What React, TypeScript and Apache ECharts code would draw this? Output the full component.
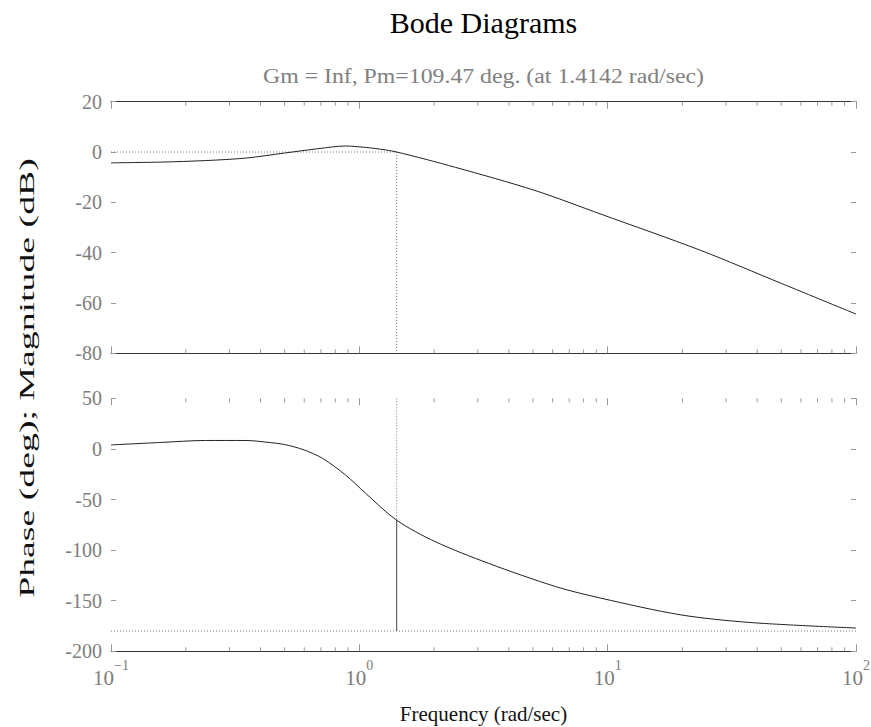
import React, { useEffect, useRef } from "react";
import * as echarts from "echarts";

// ---- data ----
const magFreq = [0.1, 0.16, 0.24, 0.35, 0.5, 0.68, 0.88, 0.96, 1.16, 1.4142, 2.44, 5.1, 9.4, 23.7, 50, 100];
const magDb = [-4.3, -4.0, -3.4, -2.4, -0.4, 1.3, 2.4, 2.2, 1.4, 0, -6.1, -15.3, -24.7, -39.1, -52.2, -64.4];

const phaseFreq = [0.1, 0.16, 0.24, 0.35, 0.42, 0.5, 0.6, 0.71, 0.88, 1.06, 1.4142, 2.02, 3.31, 6.17, 9.4, 19.7, 37.8, 100];
const phaseDeg = [4, 6.5, 8.4, 8.4, 6.8, 4.4, -1, -9.2, -25.7, -43.8, -70.5, -91.6, -113, -136, -147.5, -164, -171.6, -177];

const crossFreq = 1.4142;
const phaseAtCross = -70.53;
const phaseRef = -180;

const magTicks = { min: -80, max: 20, interval: 20 };
const phaseTicks = { min: -200, max: 50, interval: 50 };
const freqRange = { min: 0.1, max: 100 };
const minorFreqs = [
  0.2, 0.3, 0.4, 0.5, 0.6, 0.7, 0.8, 0.9,
  2, 3, 4, 5, 6, 7, 8, 9,
  20, 30, 40, 50, 60, 70, 80, 90,
];

const titleText = "Bode Diagrams";
const subtitleText = "Gm = Inf, Pm=109.47 deg. (at 1.4142 rad/sec)";
const xName = "Frequency (rad/sec)";
const yName = "Phase (deg); Magnitude (dB)";

const SERIF = "'Liberation Serif', 'Times New Roman', serif";
const TICK_COLOR = "#7d7d7d";
const AXIS_COLOR = "#333";
const CURVE_COLOR = "#222";

function minorTickSeries(xi: number, yi: number, ymin: number, ymax: number) {
  return {
    type: "custom",
    xAxisIndex: xi,
    yAxisIndex: yi,
    silent: true,
    clip: false,
    data: minorFreqs.map((f) => [f, ymin]),
    renderItem: (params: any, api: any) => {
      const f = api.value(0);
      const pb = api.coord([f, ymin]);
      const pt = api.coord([f, ymax]);
      const st = { stroke: "#999", lineWidth: 1 };
      return {
        type: "group",
        children: [
          { type: "line", shape: { x1: pb[0], y1: pb[1], x2: pb[0], y2: pb[1] - 4 }, style: st },
          { type: "line", shape: { x1: pt[0], y1: pt[1], x2: pt[0], y2: pt[1] + 4 }, style: st },
        ],
      };
    },
  };
}

function xAxisDef(gridIndex: number, position: string, showLine: boolean, showLabel: boolean) {
  return {
    type: "log",
    logBase: 10,
    gridIndex,
    position,
    min: freqRange.min,
    max: freqRange.max,
    axisLine: { show: showLine, onZero: false, lineStyle: { color: AXIS_COLOR, width: 1 } },
    axisTick: { show: true, inside: true, length: 7, lineStyle: { color: "#999" } },
    splitLine: { show: false },
    minorTick: { show: false },
    axisLabel: showLabel
      ? {
          show: true,
          margin: 7,
          formatter: (v: number) => {
            const e = Math.round(Math.log10(v));
            const s = e < 0 ? "\u2212" + -e : String(e);
            return "{b|10}{s|" + s + "}";
          },
          rich: {
            b: { fontFamily: SERIF, fontSize: 21, color: TICK_COLOR, lineHeight: 30, verticalAlign: "bottom" },
            s: { fontFamily: SERIF, fontSize: 14, color: TICK_COLOR, lineHeight: 14, verticalAlign: "top" },
          },
        }
      : { show: false },
  };
}

function yAxisDef(gridIndex: number, position: string, t: any, showLabel: boolean) {
  return {
    type: "value",
    gridIndex,
    position,
    min: t.min,
    max: t.max,
    interval: t.interval,
    axisLine: { show: false },
    axisTick: { show: true, inside: true, length: 5, lineStyle: { color: "#999" } },
    splitLine: { show: false },
    axisLabel: showLabel
      ? { show: true, margin: 9, fontFamily: SERIF, fontSize: 20, color: TICK_COLOR }
      : { show: false },
  };
}

export default function App() {
  const ref = useRef<HTMLDivElement>(null);
  useEffect(() => {
    if (!ref.current) return;
    const chart = echarts.init(ref.current, undefined, { renderer: "svg" });
    const dotted = { color: "#777", width: 1, type: [1, 2] as any };
    const option: any = {
      animation: false,
      backgroundColor: "#fff",
      grid: [
        { left: 111, top: 101.7, width: 745, height: 251.6, outerBoundsMode: "none" },
        { left: 111, top: 398.4, width: 745, height: 252.9, outerBoundsMode: "none" },
      ],
      xAxis: [
        xAxisDef(0, "bottom", true, false),
        xAxisDef(0, "top", true, false),
        xAxisDef(1, "bottom", true, true),
        xAxisDef(1, "top", false, false),
      ],
      yAxis: [
        yAxisDef(0, "left", magTicks, true),
        yAxisDef(0, "right", magTicks, false),
        yAxisDef(1, "left", phaseTicks, true),
        yAxisDef(1, "right", phaseTicks, false),
      ],
      series: [
        minorTickSeries(0, 0, magTicks.min, magTicks.max),
        minorTickSeries(2, 2, phaseTicks.min, phaseTicks.max),
        {
          type: "line", xAxisIndex: 0, yAxisIndex: 0, symbol: "none", silent: true,
          lineStyle: dotted,
          data: [[freqRange.min, 0], [crossFreq, 0]],
        },
        {
          type: "line", xAxisIndex: 0, yAxisIndex: 0, symbol: "none", silent: true,
          lineStyle: dotted,
          data: [[crossFreq, 0], [crossFreq, magTicks.min]],
        },
        {
          type: "line", xAxisIndex: 2, yAxisIndex: 2, symbol: "none", silent: true,
          lineStyle: dotted,
          data: [[freqRange.min, phaseRef], [freqRange.max, phaseRef]],
        },
        {
          type: "line", xAxisIndex: 2, yAxisIndex: 2, symbol: "none", silent: true,
          lineStyle: dotted,
          data: [[crossFreq, phaseTicks.max], [crossFreq, phaseAtCross]],
        },
        {
          type: "line", xAxisIndex: 2, yAxisIndex: 2, symbol: "none", silent: true,
          lineStyle: { color: "#444", width: 1 },
          data: [[crossFreq, phaseAtCross], [crossFreq, phaseRef]],
        },
        {
          name: "Magnitude", type: "line", xAxisIndex: 0, yAxisIndex: 0, symbol: "none",
          smooth: 0.3, lineStyle: { color: CURVE_COLOR, width: 1 },
          data: magFreq.map((f, i) => [f, magDb[i]]),
        },
        {
          name: "Phase", type: "line", xAxisIndex: 2, yAxisIndex: 2, symbol: "none",
          smooth: 0.3, lineStyle: { color: CURVE_COLOR, width: 1 },
          data: phaseFreq.map((f, i) => [f, phaseDeg[i]]),
        },
      ],
      graphic: [
        {
          type: "text", x: 483.5, y: 22,
          style: { text: titleText, font: "30px " + SERIF, fill: "#000", align: "center", verticalAlign: "middle", textAlign: "center", textVerticalAlign: "middle" },
        },
        {
          type: "text", x: 483.5, y: 76, scaleX: 1.19,
          style: { text: subtitleText, font: "20px " + SERIF, fill: "#808080", align: "center", verticalAlign: "middle", textAlign: "center", textVerticalAlign: "middle" },
        },
        {
          type: "text", x: 483.5, y: 714,
          style: { text: xName, font: "21px " + SERIF, fill: "#111", align: "center", verticalAlign: "middle", textAlign: "center", textVerticalAlign: "middle" },
        },
        {
          type: "text", x: 27, y: 378, rotation: Math.PI / 2, scaleX: 1.8,
          style: { text: yName, font: "21px " + SERIF, fill: "#111", align: "center", verticalAlign: "middle", textAlign: "center", textVerticalAlign: "middle" },
        },
      ],
    };
    chart.setOption(option);
    return () => chart.dispose();
  }, []);
  return (
    <div
      ref={ref}
      style={{ position: "fixed", left: 0, top: 0, width: 871, height: 727, background: "#fff" }}
    />
  );
}
